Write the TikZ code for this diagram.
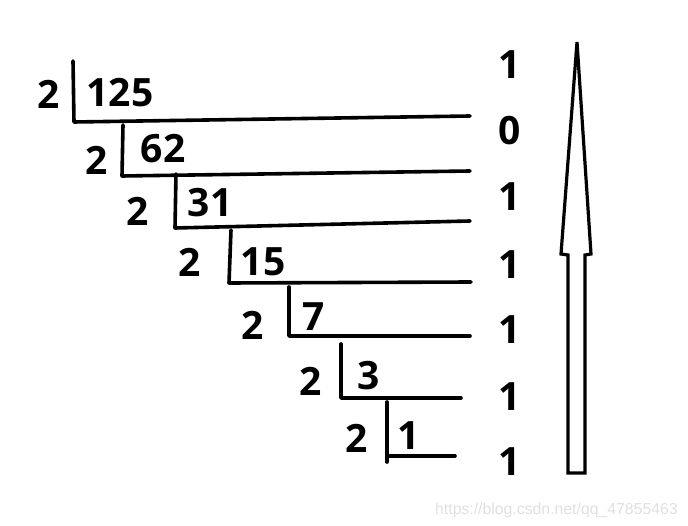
\documentclass[tikz,border=0pt]{standalone}
\usepackage{fontspec}
\setmainfont{Open Sans}
\newfontfamily\wmfont{Liberation Sans}
\begin{document}
\begin{tikzpicture}[x=1pt,y=-1pt,
  num/.style={inner sep=0pt,font=\bfseries\fontsize{39}{42}\selectfont},
  rule/.style={line width=3.6pt,line cap=round,line join=round},
  arrowshape/.style={line width=3.2pt,line join=miter}]
\useasboundingbox (0,0) rectangle (688,526);
% step 1
\node[num] (d1) at (49,94) {2};
\node[num] (q1) at (120,93) {125};
\draw[rule] (73,61) -- (74,122) -- (470,116);
% step 2
\node[num] (d2) at (97,160) {2};
\node[num] (q2) at (163,149) {62};
\draw[rule] (123,125) -- (122,176) -- (470,171);
% step 3
\node[num] (d3) at (138,211) {2};
\node[num] (q3) at (210,203) {31};
\draw[rule] (176,174) -- (175,228) -- (470,221);
% step 4
\node[num] (d4) at (190,262) {2};
\node[num] (q4) at (263,262) {15};
\draw[rule] (231,230) -- (229,283) -- (471,282);
% step 5
\node[num] (d5) at (253,325) {2};
\node[num] (q5) at (314,317) {7};
\draw[rule] (289,287) -- (289,336) -- (470,336);
% step 6
\node[num] (d6) at (311,381) {2};
\node[num] (q6) at (369,376) {3};
\draw[rule] (341,344) -- (341,398) -- (461,398);
% step 7
\node[num] (d7) at (357,438) {2};
\node[num] (q7) at (409,436) {1};
\draw[rule] (387,402) -- (387,462);
\draw[rule] (387,456) -- (455,456);
% remainders
\node[num] (r1) at (510,65) {1};
\node[num] (r2) at (510,131) {0};
\node[num] (r3) at (510,197) {1};
\node[num] (r4) at (510,265) {1};
\node[num] (r5) at (510,330) {1};
\node[num] (r6) at (510,397) {1};
\node[num] (r7) at (510,462) {1};
% arrow
\draw[arrowshape] (577,42) -- (591,254) -- (585,255) -- (585,473) -- (568,473) -- (568,255) -- (561,254) -- cycle;
% watermark
\node[inner sep=0pt,font=\wmfont\fontsize{15.8}{18}\selectfont,text=black!12,anchor=west] (wm) at (435,510) {https://blog.csdn.net/qq\_47855463};
\end{tikzpicture}
\end{document}
